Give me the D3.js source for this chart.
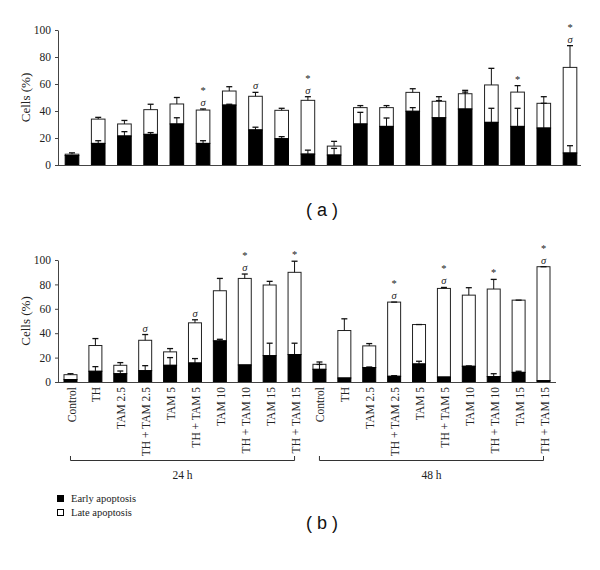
<!DOCTYPE html>
<html><head><meta charset="utf-8">
<script src="https://cdn.jsdelivr.net/npm/d3@7"></script>
<style>body{margin:0;background:#fff}svg{display:block}</style>
</head><body>
<svg id="c" width="600" height="570"></svg>
<script>
// ---- data ----
const categories = ["Control","TH","TAM 2.5","TH + TAM 2.5","TAM 5","TH + TAM 5","TAM 10","TH + TAM 10","TAM 15","TH + TAM 15"];
const groups = ["24 h","48 h"];
const yTicks = [0,20,40,60,80,100];
const legendLabels = ["Early apoptosis","Late apoptosis"];

// panel (a)
const aEarly    = [7,16,21.5,22.7,30.4,16,44.4,26,19.5,8.1, 7.4,30.4,28.6,39.8,35,41.5,31.6,28.6,27.4,8.9];
const aLate     = [1,18,8.9,18.3,14.8,24.7,10.4,24.9,21,39.8, 6.6,12.1,13.9,14,12.2,11.3,27.7,25.4,18.3,63.4];
const aEarlyErr = [0,2,3.2,1.3,4.6,2,0.6,2,1.5,2.9, 4.9,8.6,6.2,2.7,12.7,12.5,10.4,13.4,18.3,5.4];
const aLateErr  = [1,1.3,2.6,4,4.8,0.8,3.2,2.9,1.5,2.7, 3.5,1.5,1.5,2.7,3.4,2.5,12.3,4.8,4.9,16.1];
const aMarks    = ["","","","","","*σ","","σ","","*σ", "","","","","","","","*","","*σ"];

// panel (b)
const bEarly    = [2,8.8,6.8,9.3,13.7,15.6,33.7,14,21.6,22.5, 10.4,3.3,11.8,4.7,14.8,4.1,12.9,4.4,7.9,1.1];
const bLate     = [4,21.1,6.9,24.9,11,32.9,41.1,70.9,57.9,67.4, 4.1,38.9,17.8,60.8,32.3,72.6,58.3,71.8,59.2,93.4];
const bEarlyErr = [0,3.8,2.2,4.1,6.3,3.6,1.3,0,10.2,9.3, 4,0,0.5,0.5,2.2,0,0.3,2.4,0.9,0];
const bLateErr  = [0.8,5.7,2.2,4.7,2.7,2.5,10.1,3.6,3,9.1, 1.9,9.6,1.9,0,0,0.8,6.1,7.9,0,0];
const bMarks    = ["","","","σ","","σ","","*σ","","*", "","","","*σ","","*σ","","*","","*σ"];

const svg = d3.select("#c");
const serif = "'Liberation Serif','Times New Roman',serif";

function panel(cfg){
  const n = cfg.early.length;
  const ids = d3.range(n);
  const x = d3.scaleBand().domain(ids).range([cfg.x0, cfg.x1]).paddingInner(cfg.pi).paddingOuter(cfg.po);
  const y = d3.scaleLinear().domain([0,100]).range([cfg.yb, cfg.yt]);
  const g = svg.append("g");
  const rows = ids.map(i => ({i, e: cfg.early[i], l: cfg.late[i], ee: cfg.eErr[i], le: cfg.lErr[i], m: cfg.marks[i]}));
  const bw = x.bandwidth();
  g.selectAll("rect.late").data(rows).join("rect")
    .attr("x", d => x(d.i)).attr("width", bw)
    .attr("y", d => y(d.e + d.l)).attr("height", d => y(d.e) - y(d.e + d.l))
    .attr("fill", "#fff").attr("stroke", "#222").attr("stroke-width", 1);
  const cap = 3;
  rows.forEach(d => {
    const cx = x(d.i) + bw/2;
    if (d.ee > 0) {
      g.append("line").attr("x1",cx).attr("x2",cx).attr("y1",y(d.e)).attr("y2",y(d.e+d.ee)).attr("stroke","#111");
      g.append("line").attr("x1",cx-cap).attr("x2",cx+cap).attr("y1",y(d.e+d.ee)).attr("y2",y(d.e+d.ee)).attr("stroke","#111").attr("stroke-width",1.3);
    }
    const t = d.e + d.l;
    g.append("line").attr("x1",cx).attr("x2",cx).attr("y1",y(t)).attr("y2",y(t+d.le)).attr("stroke","#111");
    g.append("line").attr("x1",cx-cap).attr("x2",cx+cap).attr("y1",y(t+d.le)).attr("y2",y(t+d.le)).attr("stroke","#111").attr("stroke-width",1.3);
    if (d.m) {
      const top = y(t + d.le);
      const hasSig = d.m.includes("σ"), hasStar = d.m.includes("*");
      if (hasSig) g.append("text").attr("x",cx).attr("y",top-3).attr("text-anchor","middle")
        .attr("font-family",serif).attr("font-style","italic").attr("font-size",10.5).attr("fill","#222").text("σ");
      if (hasStar) g.append("text").attr("x",cx).attr("y", hasSig ? top-15 : top-3).attr("text-anchor","middle")
        .attr("font-family",serif).attr("font-size",10.5).attr("fill","#222").text("*");
    }
  });
  g.selectAll("rect.early").data(rows).join("rect")
    .attr("x", d => x(d.i)).attr("width", bw)
    .attr("y", d => y(d.e)).attr("height", d => y(0) - y(d.e))
    .attr("fill", "#000").attr("stroke", "#000").attr("stroke-width", 1);
  const ax = g.append("g").attr("transform", `translate(${cfg.ax},0)`)
    .call(d3.axisLeft(y).tickValues(yTicks).tickSize(3).tickSizeOuter(0).tickPadding(4));
  ax.selectAll("text").attr("font-family", serif).attr("font-size", 11.5).attr("fill","#222");
  ax.selectAll("line,path").attr("stroke","#444");
  g.append("line").attr("x1",cfg.ax-3).attr("x2",cfg.xEnd).attr("y1",y(0)+0.5).attr("y2",y(0)+0.5).attr("stroke","#444");
  g.append("text").attr("transform",`translate(${cfg.ax-28},${(y(0)+y(100))/2}) rotate(-90)`)
    .attr("text-anchor","middle").attr("font-family",serif).attr("font-size",13).attr("fill","#222").text("Cells (%)");
  return {x, y, g};
}

const A = panel({early:aEarly, late:aLate, eErr:aEarlyErr, lErr:aLateErr, marks:aMarks,
  x0:58, x1:584, pi:0.48, po:0.274, yb:165, yt:30, ax:58, xEnd:581});
const B = panel({early:bEarly, late:bLate, eErr:bEarlyErr, lErr:bLateErr, marks:bMarks,
  x0:58, x1:556, pi:0.478, po:0.241, yb:382, yt:260, ax:58, xEnd:556});

const bw = B.x.bandwidth();
d3.range(20).forEach(i => {
  const cx = B.x(i) + bw/2;
  svg.append("text").attr("transform",`translate(${cx+1},387) rotate(-90)`)
    .attr("text-anchor","end").attr("dy","0.35em")
    .attr("font-family",serif).attr("font-size",11.5).attr("fill","#222")
    .text(categories[i % 10]);
});
groups.forEach((gname, k) => {
  const xa = B.x(k*10) + bw/2, xb = B.x(k*10+9) + bw/2;
  svg.append("path").attr("d",`M${xa},456V460.5H${xb}V456`).attr("fill","none").attr("stroke","#333");
  svg.append("text").attr("x",(xa+xb)/2).attr("y",479).attr("text-anchor","middle")
    .attr("font-family",serif).attr("font-size",11.5).attr("fill","#222").text(gname);
});
const lg = svg.append("g");
legendLabels.forEach((t, k) => {
  lg.append("rect").attr("x",57.5).attr("y",495.5 + k*14).attr("width",6).attr("height",6)
    .attr("fill", k===0 ? "#000" : "#fff").attr("stroke","#000");
  lg.append("text").attr("x",71).attr("y",502 + k*14).attr("font-family",serif).attr("font-size",10.5).attr("fill","#222").text(t);
});
svg.append("text").attr("x",322).attr("y",216).attr("text-anchor","middle")
  .attr("font-family","'Liberation Sans',Arial,sans-serif").attr("font-size",18).attr("fill","#111").text("( a )");
svg.append("text").attr("x",322).attr("y",529).attr("text-anchor","middle")
  .attr("font-family","'Liberation Sans',Arial,sans-serif").attr("font-size",18).attr("fill","#111").text("( b )");
</script>
</body></html>
